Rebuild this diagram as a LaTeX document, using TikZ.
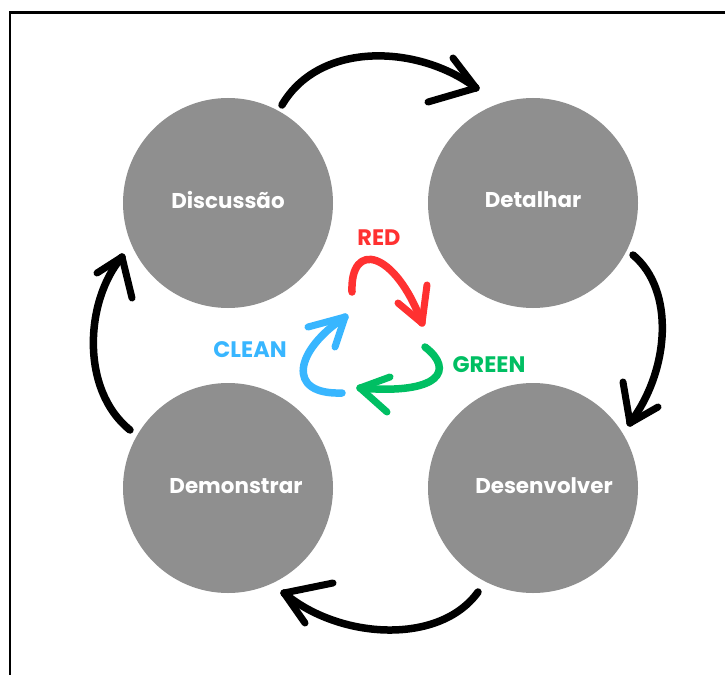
\documentclass[tikz,border=0pt]{standalone}
\usepackage{fontspec}
\setmainfont{Poppins}
\definecolor{stage}{HTML}{8F8F8F}
\definecolor{redc}{HTML}{FF3131}
\definecolor{greenc}{HTML}{00BF63}
\definecolor{bluec}{HTML}{38B6FF}
\begin{document}
\begin{tikzpicture}[x=1bp,y=-1bp,
  stage/.style={circle,fill=stage,minimum size=210bp,inner sep=0pt},
  stagetext/.style={text=white,font=\fontsize{21.5}{25}\selectfont\bfseries,inner sep=0pt},
  tddtext/.style={font=\fontsize{22.5}{26}\selectfont\bfseries,inner sep=0pt},
  brush/.style={line width=7.5bp,line cap=round,line join=round},
  barb/.style={line width=7bp,line cap=round}]
\useasboundingbox (0,0) rectangle (725,675);
\fill[white] (0,0) rectangle (725,675);
% frame
\draw[line width=2.5bp] (10,675) -- (10,12.5) -- (725,12.5);

% four stages
\node[stage] (disc) at (228,203) {};
\node[stage] (det)  at (533,203) {};
\node[stage] (des)  at (533,488) {};
\node[stage] (dem)  at (228,488) {};
\node[stagetext] (tdisc) at (228,200) {Discussão};
\node[stagetext] (tdet)  at (533,200) {Detalhar};
\node[stagetext] (tdes)  at (544,486) {Desenvolver};
\node[stagetext] (tdem)  at (236,486) {Demonstrar};

% outer cycle arrows
\coordinate (a1s) at (282,105); \coordinate (a1t) at (476,88);
\draw[brush] (a1s) .. controls (320,40) and (420,45) .. (a1t);
\draw[barb] (a1t) -- (453,58); \draw[barb] (a1t) -- (428,102);

\coordinate (a2s) at (633,255); \coordinate (a2t) at (630,423);
\draw[brush] (a2s) .. controls (675,290) and (670,370) .. (a2t);
\draw[barb] (a2t) -- (623,382); \draw[barb] (a2t) -- (658,407);

\coordinate (a3s) at (478,592); \coordinate (a3t) at (284,593);
\draw[brush] (a3s) .. controls (440,645) and (340,640) .. (a3t);
\draw[barb] (a3t) -- (333,583); \draw[barb] (a3t) -- (305,623);

\coordinate (a4s) at (130,430); \coordinate (a4t) at (122,257);
\draw[brush] (a4s) .. controls (80,390) and (85,300) .. (a4t);
\draw[barb] (a4t) -- (97,273); \draw[barb] (a4t) -- (132,298);

% inner red-green-clean cycle
\node[tddtext,text=redc]   (red)   at (379,238) {RED};
\node[tddtext,text=greenc] (green) at (489,365) {GREEN};
\node[tddtext,text=bluec]  (clean) at (250,350) {CLEAN};

\coordinate (rs) at (352,292); \coordinate (rt) at (422,323);
\draw[brush,redc] (rs) .. controls (350,240) and (395,250) .. (rt);
\draw[barb,redc] (rt) -- (398,303); \draw[barb,redc] (rt) -- (427,285);

\coordinate (gs) at (425,347); \coordinate (gt) at (360,388);
\draw[brush,greenc] (gs) .. controls (455,370) and (440,395) .. (gt);
\draw[barb,greenc] (gt) -- (390,377); \draw[barb,greenc] (gt) -- (387,412);

\coordinate (bs) at (342,393); \coordinate (bt) at (345,317);
\draw[brush,bluec] (bs) .. controls (285,395) and (295,350) .. (bt);
\draw[barb,bluec] (bt) -- (308,327); \draw[barb,bluec] (bt) -- (335,347);
\end{tikzpicture}
\end{document}
